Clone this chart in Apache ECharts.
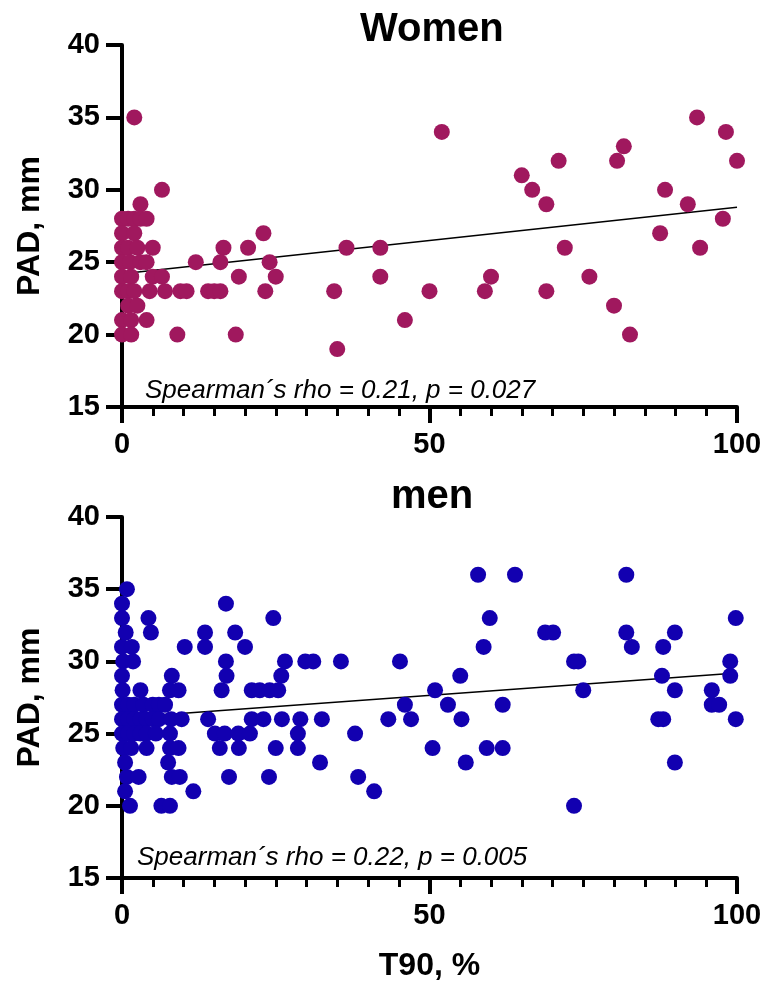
<!DOCTYPE html>
<html>
<head>
<meta charset="utf-8">
<script src="https://cdn.jsdelivr.net/npm/echarts@6.0.0/dist/echarts.min.js"></script>
<style>
  html, body { margin: 0; background: #fff; }
  #main { width: 765px; height: 989px; }
</style>
</head>
<body>
<div id="main"></div>
<script>
// T90 (%) vs PAD (mm)
const womenPoints = [
  [2, 35], [6.5, 30], [3, 29],
  [0, 28], [1, 28], [2, 28], [3, 28], [4, 28],
  [0, 27], [2, 27], [23, 27],
  [0, 26], [1, 26], [2.5, 26], [5, 26], [16.5, 26], [20.5, 26], [36.5, 26], [42, 26], [72, 26], [94, 26],
  [0, 25], [1.3, 25], [3, 25], [4, 25], [12, 25], [16, 25], [24, 25],
  [0, 24], [1.5, 24], [5, 24], [6.5, 24], [19, 24], [25, 24], [42, 24], [60, 24], [76, 24],
  [0, 23], [1, 23], [2, 23], [4.5, 23], [7, 23], [9.5, 23], [10.5, 23], [14, 23], [15, 23], [16, 23],
  [23.3, 23], [34.5, 23], [50, 23], [59, 23], [69, 23],
  [1, 22], [2.5, 22], [80, 22],
  [0, 21], [1.5, 21], [4, 21], [46, 21],
  [0, 20], [1.5, 20], [9, 20], [18.5, 20], [82.6, 20],
  [35, 19],
  [52, 34], [65, 31], [66.7, 30], [69, 29], [71, 32], [80.5, 32], [81.6, 33], [87.5, 27],
  [88.3, 30], [92, 29], [93.5, 35], [97.7, 28], [98.2, 34], [100, 32]
];

const menPoints = [
  [57.9, 36], [63.9, 36], [82, 36],
  [0.8, 35],
  [0, 34], [16.9, 34],
  [0, 33], [4.3, 33], [24.6, 33], [59.8, 33], [99.8, 33],
  [0.6, 32], [4.7, 32], [13.5, 32], [18.4, 32], [68.8, 32], [70.1, 32], [82, 32], [89.9, 32],
  [0, 31], [1.6, 31], [10.2, 31], [13.5, 31], [20, 31], [58.8, 31], [82.9, 31], [88, 31],
  [0.2, 30], [1.8, 30], [16.9, 30], [26.5, 30], [29.8, 30], [31.1, 30], [35.6, 30], [45.2, 30],
  [73.5, 30], [74.2, 30], [98.9, 30],
  [0, 29], [8.1, 29], [17, 29], [25.9, 29], [55, 29], [87.8, 29], [98.9, 29],
  [0.1, 28], [3, 28], [7.8, 28], [9.2, 28], [16.2, 28], [21.1, 28], [22.4, 28], [24, 28], [25.4, 28],
  [50.9, 28], [75, 28], [89.9, 28], [95.9, 28],
  [0, 27], [1, 27], [2, 27], [3.5, 27], [5, 27], [6, 27], [7, 27], [46, 27], [53, 27], [61.9, 27],
  [95.9, 27], [97.1, 27],
  [0, 26], [1, 26], [2, 26], [3, 26], [4, 26], [5, 26], [6, 26], [8, 26], [9.7, 26], [14, 26],
  [21.1, 26], [23, 26], [26, 26], [29, 26], [32.5, 26], [43.3, 26], [47, 26], [55.2, 26],
  [87.2, 26], [88, 26], [99.8, 26],
  [0, 25], [1, 25], [2, 25], [3, 25], [4, 25], [5.5, 25], [7.8, 25], [15.1, 25], [16.7, 25],
  [18.9, 25], [20.8, 25], [28.6, 25], [37.9, 25],
  [0.2, 24], [1.5, 24], [4, 24], [7.8, 24], [9.2, 24], [15.9, 24], [19, 24], [25, 24], [28.6, 24],
  [50.5, 24], [59.3, 24], [61.9, 24],
  [0.5, 23], [7.5, 23], [32.2, 23], [55.9, 23], [89.9, 23],
  [0.8, 22], [2.7, 22], [8.1, 22], [9.4, 22], [17.4, 22], [23.9, 22], [38.4, 22],
  [0.5, 21], [11.6, 21], [41, 21],
  [1.3, 20], [6.4, 20], [7.8, 20], [73.5, 20]
];

// linear fit lines (end points)
const womenTrend = [[0, 24.2], [100, 28.8]];
const menTrend = [[0, 26.1], [100, 29.2]];

const panelTitles = ['Women', 'men'];
const statTexts = ['Spearman\u00b4s rho = 0.21, p = 0.027', 'Spearman\u00b4s rho = 0.22, p = 0.005'];

const FONT = '"Liberation Sans", Arial, Helvetica, sans-serif';
const WOMEN_COLOR = '#a0185e';
const MEN_COLOR = '#1200b0';

// major axis: labels + long ticks every 50
function makeXAxis(idx, name) {
  return {
    type: 'value', gridIndex: idx, min: 0, max: 100, interval: 50,
    position: 'bottom', offset: 0, z: 5,
    axisLine: { show: true, onZero: false, lineStyle: { color: '#000', width: 4 } },
    axisTick: { show: true, inside: false, length: 16, lineStyle: { color: '#000', width: 4 } },
    splitLine: { show: false },
    axisLabel: { color: '#000', fontSize: 29, fontWeight: 'bold', fontFamily: FONT, margin: 23 },
    name: name, nameLocation: 'middle', nameGap: 72,
    nameTextStyle: { color: '#000', fontSize: 32, fontWeight: 'bold', fontFamily: FONT }
  };
}

// minor ticks every 5, drawn by a second unlabeled axis on the same line
function makeMinorXAxis(idx) {
  return {
    type: 'value', gridIndex: idx, min: 0, max: 100, interval: 5,
    position: 'bottom', offset: 0, z: 4,
    axisLine: { show: false, onZero: false },
    axisTick: { show: true, inside: false, length: 9, lineStyle: { color: '#000', width: 3 } },
    splitLine: { show: false },
    axisLabel: { show: false }
  };
}

function makeYAxis(idx) {
  return {
    type: 'value', gridIndex: idx, min: 15, max: 40, interval: 5,
    axisLine: { show: true, onZero: false, lineStyle: { color: '#000', width: 4 } },
    axisTick: { show: true, inside: false, length: 16, lineStyle: { color: '#000', width: 4 } },
    splitLine: { show: false },
    axisLabel: { color: '#000', fontSize: 29, fontWeight: 'bold', fontFamily: FONT, margin: 22 },
    name: 'PAD, mm', nameLocation: 'middle', nameGap: 76,
    nameTextStyle: { color: '#000', fontSize: 32, fontWeight: 'bold', fontFamily: FONT }
  };
}

function textEl(x, y, text, size, weight, style) {
  return {
    type: 'text', x: x, y: y, z: 100,
    style: {
      text: text, fill: '#000', font: style + ' ' + weight + ' ' + size + 'px ' + FONT,
      textAlign: 'left', textVerticalAlign: 'top', align: 'left', verticalAlign: 'top'
    }
  };
}

const chart = echarts.init(document.getElementById('main'));

chart.setOption({
  backgroundColor: '#fff',
  animation: false,
  grid: [
    { left: 122, top: 45, width: 615, height: 362 },
    { left: 122, top: 517, width: 615, height: 361 }
  ],
  xAxis: [makeXAxis(0, ''), makeXAxis(1, 'T90, %'), makeMinorXAxis(0), makeMinorXAxis(1)],
  yAxis: [makeYAxis(0), makeYAxis(1)],
  graphic: [
    textEl(360, 10, panelTitles[0], 40, 'bold', 'normal'),
    textEl(391, 477, panelTitles[1], 40, 'bold', 'normal'),
    textEl(145, 378, statTexts[0], 26, 'normal', 'italic'),
    textEl(137, 845, statTexts[1], 26, 'normal', 'italic')
  ],
  series: [
    {
      type: 'line', xAxisIndex: 0, yAxisIndex: 0, data: womenTrend, z: 1,
      symbol: 'none', lineStyle: { color: '#000', width: 1.5 }
    },
    {
      type: 'scatter', xAxisIndex: 0, yAxisIndex: 0, data: womenPoints, z: 3,
      symbolSize: 16, itemStyle: { color: WOMEN_COLOR, opacity: 1 }
    },
    {
      type: 'line', xAxisIndex: 1, yAxisIndex: 1, data: menTrend, z: 1,
      symbol: 'none', lineStyle: { color: '#000', width: 1.5 }
    },
    {
      type: 'scatter', xAxisIndex: 1, yAxisIndex: 1, data: menPoints, z: 3,
      symbolSize: 16, itemStyle: { color: MEN_COLOR, opacity: 1 }
    }
  ]
});
</script>
</body>
</html>
